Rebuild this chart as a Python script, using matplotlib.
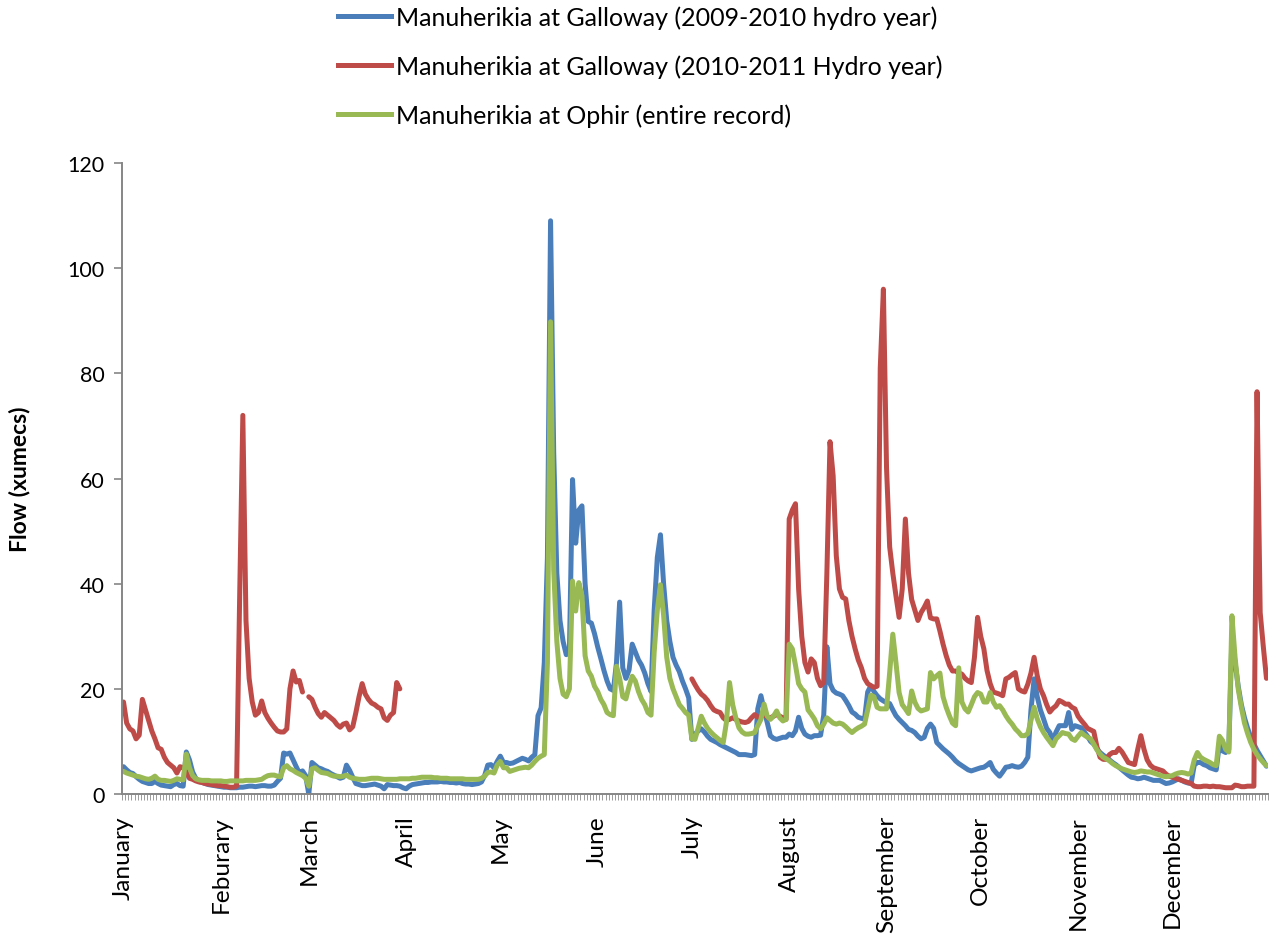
import numpy as np
import matplotlib
matplotlib.use("Agg")
import matplotlib.pyplot as plt
from matplotlib.lines import Line2D

nan = np.nan

month_starts = [0, 31, 59, 90, 120, 151, 181, 212, 243, 273, 304, 334]
month_labels = ["January", "Feburary", "March", "April", "May", "June", "July",
                "August", "September", "October", "November", "December"]

series_names = [
    "Manuherikia at Galloway (2009-2010 hydro year)",
    "Manuherikia at Galloway (2010-2011 Hydro year)",
    "Manuherikia at Ophir (entire record)",
]

# Daily flows (cumecs), one value per day of the year
galloway_0910 = [
    5.2, 4.6, 4.1, 3.9, 3.3, 2.8, 2.4, 2.2, 2.0, 2.0,
    2.4, 2.0, 1.7, 1.6, 1.5, 1.4, 1.8, 2.0, 1.6, 1.5,
    8.0, 6.5, 4.2, 3.0, 2.4, 2.2, 2.0, 1.8, 1.7, 1.6,
    1.5, 1.4, 1.3, 1.3, 1.2, 1.2, 1.2, 1.3, 1.3, 1.4,
    1.5, 1.5, 1.4, 1.5, 1.6, 1.6, 1.5, 1.5, 1.7, 2.4,
    3.0, 7.8, 7.6, 7.8, 6.5, 5.2, 4.0, 4.4, 3.5, 0.0,
    6.0, 5.5, 5.0, 4.8, 4.5, 4.3, 3.9, 3.6, 3.3, 3.0,
    3.2, 5.5, 4.5, 3.2, 2.0, 1.8, 1.6, 1.6, 1.7, 1.8,
    1.9, 1.7, 1.5, 1.0, 1.8, 1.7, 1.6, 1.6, 1.5, 1.2,
    1.0, 1.5, 1.8, 1.9, 2.0, 2.1, 2.2, 2.2, 2.3, 2.3,
    2.3, 2.4, 2.3, 2.3, 2.2, 2.2, 2.1, 2.2, 2.0, 1.9,
    1.9, 1.8, 1.9, 2.0, 2.3, 3.5, 5.5, 5.6, 5.0, 6.2,
    7.2, 6.0, 6.0, 5.8, 5.9, 6.2, 6.5, 6.8, 6.6, 6.3,
    7.0, 7.5, 14.9, 16.4, 25.0, 45.0, 109.0, 65.0, 42.0, 33.0,
    29.0, 26.5, 27.0, 59.8, 47.7, 54.0, 54.8, 40.0, 32.8, 32.5,
    30.5, 28.0, 25.8, 23.5, 21.5, 20.0, 19.7, 25.0, 36.5, 24.0,
    22.0, 23.6, 28.5, 27.0, 25.5, 24.5, 23.0, 21.0, 19.5, 35.0,
    45.0, 49.3, 40.0, 33.0, 29.0, 26.0, 24.5, 23.3, 21.5, 20.0,
    18.3, 10.4, 11.4, 12.0, 12.4, 11.8, 11.0, 10.4, 10.1, 9.8,
    9.4, 9.1, 8.8, 8.5, 8.2, 7.9, 7.5, 7.5, 7.5, 7.4,
    7.3, 7.5, 16.2, 18.7, 16.0, 13.6, 11.1, 10.6, 10.4, 10.6,
    10.8, 10.8, 11.4, 11.1, 12.0, 14.6, 12.5, 11.4, 11.0, 10.8,
    11.1, 11.1, 11.2, 15.0, 28.0, 21.0, 19.7, 19.2, 19.0, 18.7,
    17.8, 16.8, 15.6, 15.2, 14.6, 14.4, 14.3, 19.4, 20.6, 19.5,
    18.7, 18.1, 17.7, 17.4, 17.2, 16.0, 14.9, 14.2, 13.6, 13.0,
    12.3, 12.1, 11.7, 11.0, 10.5, 10.8, 12.5, 13.3, 12.5, 9.8,
    9.2, 8.6, 8.1, 7.6, 7.0, 6.3, 5.8, 5.4, 5.0, 4.6,
    4.4, 4.6, 4.8, 5.0, 5.1, 5.5, 6.0, 4.7, 4.0, 3.4,
    4.2, 5.1, 5.2, 5.4, 5.2, 5.1, 5.3, 6.0, 7.0, 16.0,
    21.9, 18.5, 16.0, 14.3, 12.5, 11.7, 10.2, 11.8, 13.0, 13.0,
    13.0, 15.5, 12.3, 13.0, 12.8, 12.6, 11.8, 11.0, 10.0, 9.5,
    8.6, 7.9, 7.4, 7.0, 6.5, 6.0, 5.6, 5.1, 4.6, 4.1,
    3.6, 3.2, 3.1, 2.9, 3.0, 3.2, 3.0, 2.8, 2.6, 2.6,
    2.6, 2.3, 2.0, 2.1, 2.3, 2.6, 2.9, 2.6, 2.3, 2.1,
    2.0, 5.5, 6.0, 6.0, 5.6, 5.4, 5.0, 4.8, 4.6, 9.5,
    8.2, 7.9, 8.5, 30.0, 25.0, 20.5, 17.0, 14.5, 12.5, 10.8,
    9.5, 8.3, 7.3, 6.3, 5.3,
]

galloway_1011 = [
    17.5, 13.5, 12.4, 12.0, 10.5, 11.2, 18.0, 16.0, 14.0, 12.0,
    10.5, 8.8, 8.5, 7.0, 6.0, 5.5, 5.0, 4.0, 5.2, 5.0,
    4.2, 3.0, 2.8, 2.5, 2.3, 2.2, 2.0, 1.9, 1.8, 1.7,
    1.6, 1.6, 1.5, 1.4, 1.3, 1.3, 1.5, 38.0, 72.0, 33.0,
    22.0, 17.5, 15.0, 15.5, 17.7, 15.5, 14.4, 13.5, 12.7, 12.0,
    11.8, 11.8, 12.4, 20.0, 23.4, 21.3, 21.6, 19.4, nan, 18.5,
    18.0, 16.5, 15.3, 14.6, 15.5, 15.0, 14.5, 14.0, 13.2, 12.7,
    13.3, 13.5, 12.2, 12.8, 15.5, 18.5, 21.0, 19.0, 18.0, 17.3,
    17.0, 16.5, 16.2, 14.5, 14.0, 15.0, 15.5, 21.2, 20.0,
] + [nan] * 92 + [
    21.9, 20.8, 19.8, 19.0, 18.5, 17.8, 16.8, 16.0, 15.7,
    15.5, 14.5, 14.0, 14.2, 14.5, 14.2, 13.9, 13.7, 13.6, 13.8,
    14.5, 15.1, 14.6, 14.8, 15.1, 14.6, 14.5, 14.8, 15.1, 14.8,
    14.5, 14.2, 52.3, 54.0, 55.2, 39.0, 30.0, 25.0, 23.2, 25.7,
    25.0, 22.0, 20.6, 21.2, 42.0, 67.0, 60.5, 45.3, 39.0, 37.4,
    37.1, 33.0, 30.0, 27.6, 25.5, 24.0, 22.0, 21.0, 20.6, 20.3,
    20.5, 81.0, 96.0, 62.0, 47.0, 42.0, 37.7, 33.6, 39.0, 52.3,
    42.0, 37.0, 35.0, 33.0, 34.5, 35.5, 36.7, 33.5, 33.3, 33.3,
    31.0, 28.5, 26.3, 24.5, 23.4, 23.4, 23.0, 22.8, 22.0, 21.5,
    21.2, 26.0, 33.6, 30.0, 27.6, 23.5, 21.0, 19.4, 19.2, 19.0,
    18.7, 21.9, 22.2, 22.7, 23.1, 20.0, 19.6, 19.4, 20.9, 23.0,
    26.0, 22.5, 20.0, 18.7, 17.0, 15.6, 16.3, 16.8, 17.8, 17.5,
    17.1, 17.1, 16.5, 16.2, 14.8, 14.0, 13.3, 12.5, 12.2, 11.9,
    9.0, 7.0, 6.6, 6.6, 7.5, 7.9, 7.9, 8.7, 8.0, 7.0,
    6.0, 5.8, 5.6, 8.5, 11.1, 8.5, 6.5, 5.5, 5.0, 4.8,
    4.6, 4.4, 3.8, 3.4, 3.2, 3.0, 2.8, 2.6, 2.4, 2.2,
    2.0, 1.5, 1.4, 1.4, 1.5, 1.5, 1.4, 1.5, 1.4, 1.4,
    1.3, 1.2, 1.2, 1.2, 1.7, 1.6, 1.4, 1.4, 1.5, 1.5,
    1.5, 76.5, 34.5, 28.0, 22.0,
]

ophir_record = [
    4.3, 4.0, 3.8, 3.6, 3.4, 3.3, 3.1, 2.9, 2.8, 3.0,
    3.4, 2.8, 2.6, 2.6, 2.5, 2.4, 2.6, 2.9, 2.8, 2.7,
    7.6, 5.0, 3.5, 2.9, 2.7, 2.6, 2.6, 2.6, 2.5, 2.5,
    2.5, 2.5, 2.4, 2.4, 2.5, 2.5, 2.5, 2.5, 2.5, 2.6,
    2.6, 2.6, 2.6, 2.7, 2.8, 3.2, 3.5, 3.6, 3.6, 3.4,
    3.3, 5.0, 5.4, 4.8, 4.5, 4.1, 3.8, 3.5, 3.0, 1.5,
    4.8, 5.0, 4.5, 4.1, 4.0, 3.9, 3.6, 3.4, 3.4, 3.3,
    3.4, 3.6, 3.2, 3.0, 2.9, 2.8, 2.8, 2.8, 2.9, 3.0,
    3.0, 3.0, 2.9, 2.8, 2.8, 2.8, 2.8, 2.8, 2.9, 2.9,
    2.9, 2.9, 3.0, 3.0, 3.1, 3.2, 3.2, 3.2, 3.2, 3.1,
    3.1, 3.0, 3.0, 3.0, 2.9, 2.9, 2.9, 2.9, 2.9, 2.8,
    2.8, 2.8, 2.8, 2.8, 3.0, 3.4, 4.1, 4.2, 4.0, 5.5,
    6.2, 5.0, 5.0, 4.3, 4.5, 4.7, 4.9, 5.0, 5.1, 5.0,
    5.5, 6.2, 6.8, 7.2, 7.5, 25.0, 89.8, 42.7, 29.0, 22.0,
    19.0, 18.5, 20.0, 40.5, 34.8, 40.2, 37.7, 26.3, 23.4, 22.4,
    20.5, 19.5, 18.0, 17.0, 15.5, 15.1, 14.9, 24.3, 22.0, 18.5,
    18.1, 20.5, 22.4, 21.5, 19.5, 18.0, 17.0, 15.5, 15.0, 27.0,
    35.0, 39.8, 34.0, 26.0, 22.0, 20.0, 18.5, 17.0, 16.3, 15.5,
    15.0, 10.5, 10.4, 12.5, 14.8, 13.5, 12.5, 11.8, 11.2, 10.7,
    10.2, 9.8, 13.6, 21.2, 17.0, 14.5, 12.6, 11.8, 11.4, 11.4,
    11.5, 11.7, 13.0, 14.2, 17.1, 14.8, 14.2, 14.8, 15.8, 14.5,
    13.9, 14.2, 28.5, 27.6, 24.5, 21.0, 20.0, 19.4, 16.0, 15.2,
    14.3, 13.0, 12.4, 13.3, 14.5, 14.0, 13.5, 13.3, 13.5, 13.3,
    12.8, 12.2, 11.7, 12.2, 12.6, 12.9, 13.3, 16.0, 18.8, 18.5,
    16.5, 16.2, 16.2, 16.2, 23.1, 30.4, 25.0, 19.3, 17.0, 16.2,
    15.3, 19.6, 17.5, 16.3, 15.8, 16.0, 16.2, 23.1, 21.9, 22.5,
    23.0, 18.5, 16.5, 14.9, 13.5, 13.0, 24.0, 17.5, 16.2, 15.6,
    17.0, 18.5, 19.3, 19.0, 17.5, 17.5, 19.3, 17.5, 16.5, 16.8,
    16.0, 14.9, 14.0, 13.3, 12.4, 11.8, 11.1, 11.1, 11.5, 14.0,
    16.5, 14.3, 12.8, 11.7, 10.8, 10.0, 9.2, 10.5, 11.1, 11.7,
    11.5, 11.4, 10.5, 10.2, 11.0, 11.7, 11.2, 10.8, 10.5, 9.5,
    8.4, 7.6, 7.0, 6.7, 6.3, 5.8, 5.4, 5.1, 4.8, 4.6,
    4.4, 4.2, 4.1, 4.2, 4.4, 4.3, 4.2, 4.2, 4.0, 3.8,
    3.6, 3.4, 3.3, 3.4, 3.5, 3.8, 4.0, 4.1, 4.0, 3.8,
    4.0, 6.5, 7.9, 7.0, 6.6, 6.3, 6.0, 5.6, 5.4, 11.0,
    10.2, 8.5, 8.0, 33.9, 26.0, 20.0, 16.5, 13.5, 11.5, 9.8,
    8.5, 7.5, 6.7, 6.0, 5.4,
]

colors = ["#4A7EBB", "#BE4B48", "#98B954"]
font = "Lato"

days = np.arange(len(galloway_0910))

fig = plt.figure(figsize=(12.73, 9.37), dpi=100)
ax = fig.add_axes([0.0958, 0.1515, 0.9003, 0.6735])

for vals, c in zip([galloway_0910, galloway_1011, ophir_record], colors):
    ax.plot(days, vals, color=c, lw=3.6, solid_joinstyle="round",
            solid_capstyle="round")

ax.set_xlim(-0.5, len(days) - 0.5)
ax.set_ylim(0, 120)
ax.set_yticks(np.arange(0, 121, 20))

ax.set_xticks(month_starts)
ax.set_xticklabels(month_labels, rotation=90, ha="center", va="top",
                   fontsize=17.6, family=font)
ax.set_xticks(np.arange(-0.5, len(days), 1), minor=True)
ax.tick_params(axis="x", which="major", length=0, pad=15)
ax.tick_params(axis="x", which="minor", length=4.5, width=0.7, color="#9a9a9a")
ax.tick_params(axis="y", length=5.5, width=1.2, color="#868686", pad=7,
               labelsize=15.5)
for lbl in ax.get_yticklabels():
    lbl.set_family(font)

for side in ["top", "right"]:
    ax.spines[side].set_visible(False)
for side in ["left", "bottom"]:
    ax.spines[side].set_color("#868686")
    ax.spines[side].set_linewidth(1.4)

ax.set_ylabel("Flow (xumecs)", fontsize=16.5, fontweight="bold", family=font)
ax.yaxis.set_label_coords(-0.08, 0.5)

handles = [Line2D([], [], color=c, lw=3.6) for c in colors]
fig.legend(handles, series_names, loc="upper left",
           bbox_to_anchor=(338 / 1273, 1 - 6 / 937), frameon=False,
           borderpad=0, borderaxespad=0, handlelength=2.1, handletextpad=0.24,
           labelspacing=1.02, prop={"family": font, "size": 18})

fig.savefig("out.png", dpi=100)
